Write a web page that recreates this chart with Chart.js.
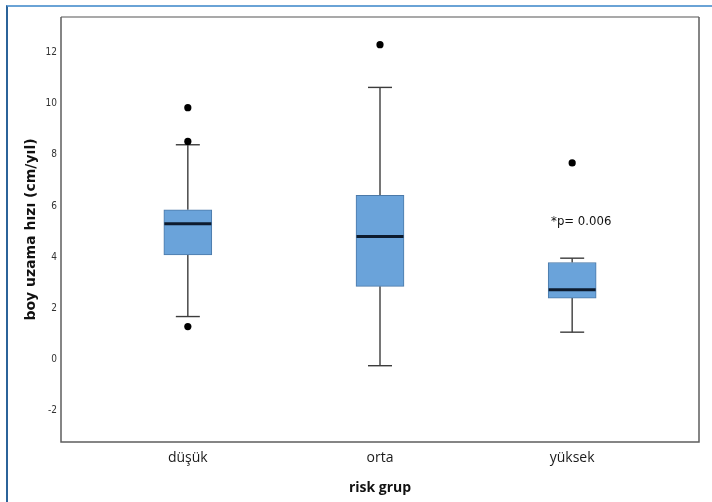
<!DOCTYPE html>
<html>
<head>
<meta charset="utf-8">
<script src="https://cdn.jsdelivr.net/npm/chart.js@4.4.0/dist/chart.umd.min.js"></script>
<style>
    html, body { margin: 0; padding: 0; background: #fff; }
    #wrap { position: relative; width: 712px; height: 502px; overflow: hidden; }
    #frame { position: absolute; left: 6px; top: 5px; right: -2px; bottom: -2px;
             border-top: 2px solid #6aa3d6; border-left: 2px solid #2b6399; }
    canvas { position: absolute; left: 0; top: 0; }
</style>
</head>
<body>
<div id="wrap">
    <div id="frame"></div>
    <canvas id="boxChart" width="712" height="502"></canvas>
</div>
<script>
// Data
const groups = ['düşük', 'orta', 'yüksek'];
const q1 = [4.09, 2.86, 2.40];
const medians = [5.30, 4.81, 2.73];
const q3 = [5.85, 6.41, 3.79];
const whiskerLow = [1.68, -0.24, 1.07];
const whiskerHigh = [8.39, 10.63, 3.96];
const outliers = [[9.84, 8.52, 1.29], [12.30], [7.68]];
const yTicks = [-2, 0, 2, 4, 6, 8, 10, 12];
const note = '*p= 0.006';

const narrow = '"DejaVu Sans Condensed", "Liberation Sans", sans-serif';

// whiskers, caps, medians, frame and the p-value note
const boxExtras = {
    id: 'boxExtras',
    beforeDatasetsDraw(chart) {
        const { ctx, scales: { x, y } } = chart;
        ctx.save();
        ctx.strokeStyle = '#3c3c3c';
        ctx.lineWidth = 1.4;
        groups.forEach((g, i) => {
            const cx = x.getPixelForValue(i + 1);
            const segs = [[q3[i], whiskerHigh[i]], [q1[i], whiskerLow[i]]];
            segs.forEach(([from, to]) => {
                ctx.beginPath();
                ctx.moveTo(cx, y.getPixelForValue(from));
                ctx.lineTo(cx, y.getPixelForValue(to));
                ctx.stroke();
                ctx.beginPath();
                ctx.moveTo(cx - 12, y.getPixelForValue(to));
                ctx.lineTo(cx + 12, y.getPixelForValue(to));
                ctx.stroke();
            });
        });
        ctx.restore();
    },
    afterDatasetsDraw(chart) {
        const { ctx, chartArea: a, scales: { x, y } } = chart;
        ctx.save();
        ctx.strokeStyle = '#0d1b2e';
        ctx.lineWidth = 3;
        groups.forEach((g, i) => {
            const cx = x.getPixelForValue(i + 1);
            const my = y.getPixelForValue(medians[i]);
            ctx.beginPath();
            ctx.moveTo(cx - 23.5, my);
            ctx.lineTo(cx + 23.5, my);
            ctx.stroke();
        });

        // plot frame
        ctx.lineWidth = 1.5;
        ctx.strokeStyle = '#8c8c8c';
        ctx.beginPath();
        ctx.moveTo(a.left, a.top);
        ctx.lineTo(a.right, a.top);
        ctx.stroke();
        ctx.strokeStyle = '#5e5e5e';
        ctx.beginPath();
        ctx.moveTo(a.left, a.top);
        ctx.lineTo(a.left, a.bottom);
        ctx.lineTo(a.right, a.bottom);
        ctx.lineTo(a.right, a.top);
        ctx.stroke();

        // p-value note above the last box
        ctx.fillStyle = '#111';
        ctx.font = '13px ' + narrow;
        ctx.textAlign = 'center';
        ctx.textBaseline = 'middle';
        ctx.fillText(note, x.getPixelForValue(3.047), y.getPixelForValue(5.38));
        ctx.restore();
    }
};

const ctx = document.getElementById('boxChart').getContext('2d');
new Chart(ctx, {
    type: 'bar',
    data: {
        datasets: [
            {
                type: 'bar',
                data: groups.map((g, i) => ({ x: i + 1, y: [q1[i], q3[i]] })),
                backgroundColor: '#6aa3da',
                borderColor: '#4b79a8',
                borderWidth: 1,
                borderSkipped: false,
                barThickness: 48
            },
            {
                type: 'scatter',
                data: outliers.flatMap((list, i) => list.map(v => ({ x: i + 1, y: v }))),
                backgroundColor: '#000',
                borderWidth: 0,
                pointRadius: 3.6
            }
        ]
    },
    options: {
        responsive: false,
        animation: false,
        layout: { padding: { top: 17, right: 13, left: 0, bottom: 0 } },
        plugins: { legend: { display: false }, tooltip: { enabled: false } },
        scales: {
            x: {
                type: 'linear',
                offset: false,
                min: 0.34,
                max: 3.66,
                grid: { display: false, drawTicks: false },
                border: { display: false },
                afterBuildTicks: s => { s.ticks = groups.map((g, i) => ({ value: i + 1 })); },
                afterFit: s => { s.height = 60; },
                ticks: {
                    padding: 8,
                    color: '#1a1a1a',
                    font: { family: 'Open Sans', size: 14 },
                    callback: v => groups[v - 1] ?? ''
                },
                title: {
                    display: true,
                    text: 'risk grup',
                    color: '#111',
                    font: { family: 'Open Sans', size: 14, weight: 'bold' },
                    padding: { top: 0, bottom: 5.6 }
                }
            },
            y: {
                min: -3.22,
                max: 13.38,
                grid: { display: false, drawTicks: false },
                border: { display: false },
                afterBuildTicks: s => { s.ticks = yTicks.map(v => ({ value: v })); },
                afterFit: s => { s.width = 61; },
                ticks: {
                    padding: 4,
                    color: '#333',
                    font: { family: narrow, size: 10 }
                },
                title: {
                    display: true,
                    text: 'boy uzama hızı (cm/yıl)',
                    color: '#111',
                    font: { family: 'DejaVu Sans', size: 14, weight: 'bold' },
                    padding: { top: 23, bottom: 0 }
                }
            }
        }
    },
    plugins: [boxExtras]
});
</script>
</body>
</html>
